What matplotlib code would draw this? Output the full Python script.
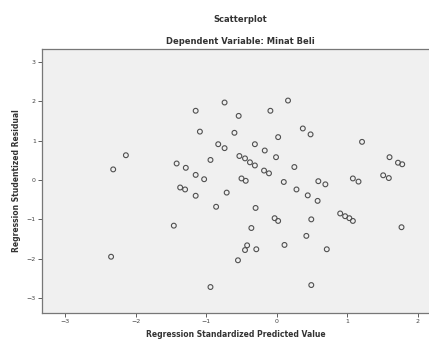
import matplotlib

matplotlib.use("Agg")
import matplotlib.pyplot as plt

# Regression standardized predicted value vs studentized residual
pred = [
    -0.74, -1.15, -0.54, -1.09, -0.60, -0.83, -0.74, -2.14, -0.94, -2.32,
    -1.42, -1.29, -1.15, -1.03, -1.37, -1.30, -1.15, -0.71, 0.16, -0.09,
    0.37, 0.48, 0.02, 1.21, -0.31, -0.17, -0.53, -0.45, -0.38, -0.31,
    -0.01, -0.18, -0.11, 0.25, 1.60, 1.72, 1.78, -0.50, -0.44, 0.10,
    0.59, 0.69, 1.08, 1.16, 1.51, 1.59, 0.28, 0.44, 0.58, -0.30,
    -0.03, 0.02, 0.49, 0.90, 0.97, 1.03, 1.08, 1.77, -0.36, 0.42,
    0.11, 0.71, -0.42, -0.45, -0.29, -0.55, 0.49, -0.86, -1.46, -2.35,
    -0.94,
]
resid = [
    1.97, 1.76, 1.63, 1.23, 1.20, 0.91, 0.81, 0.63, 0.51, 0.27,
    0.42, 0.31, 0.13, 0.02, -0.19, -0.24, -0.40, -0.32, 2.02, 1.76,
    1.31, 1.16, 1.09, 0.97, 0.91, 0.75, 0.61, 0.55, 0.45, 0.37,
    0.58, 0.24, 0.17, 0.33, 0.58, 0.44, 0.40, 0.04, -0.02, -0.05,
    -0.03, -0.11, 0.04, -0.04, 0.12, 0.05, -0.24, -0.39, -0.53, -0.71,
    -0.97, -1.04, -1.00, -0.85, -0.92, -0.97, -1.04, -1.20, -1.22, -1.42,
    -1.65, -1.76, -1.66, -1.78, -1.76, -2.04, -2.67, -0.68, -1.16, -1.95,
    -2.72,
]
x_ticks = [-3, -2, -1, 0, 1, 2]
y_ticks = [-3, -2, -1, 0, 1, 2, 3]

W, H = 429, 342
fig = plt.figure(figsize=(W / 100, H / 100), dpi=100)
fig.patch.set_facecolor("white")

# axes box in pixel coordinates (left, top, right, bottom)
l, t, r, b = 42, 49, 429, 313
ax = fig.add_axes([l / W, 1 - b / H, (r - l) / W, (b - t) / H])
ax.set_facecolor("#f0f0f0")

ax.scatter(pred, resid, s=12, facecolors="none", edgecolors="#505050", linewidths=0.8)

ax.set_xlim(-3.33, 2.16)
ax.set_ylim(-3.38, 3.33)
ax.set_xticks(x_ticks)
ax.set_yticks(y_ticks)
ax.tick_params(direction="out", length=3, width=0.6, labelsize=4.5, colors="#444444", pad=1.5)

for side in ["left", "bottom", "top"]:
    ax.spines[side].set_color("#777777")
    ax.spines[side].set_linewidth(0.9)
ax.spines["right"].set_visible(False)

ax.set_xlabel("Regression Standardized Predicted Value", fontsize=5.5, fontweight="bold",
              color="#333333", labelpad=4)
ax.set_ylabel("Regression Studentized Residual", fontsize=5.5, fontweight="bold",
              color="#333333", labelpad=4)

fig.text(240 / W, 1 - 19 / H, "Scatterplot", ha="center", va="center",
         fontsize=6, fontweight="bold", color="#333333")
fig.text(240 / W, 1 - 41 / H, "Dependent Variable: Minat Beli", ha="center", va="center",
         fontsize=6, fontweight="bold", color="#333333")

fig.savefig("out.png", dpi=100)
